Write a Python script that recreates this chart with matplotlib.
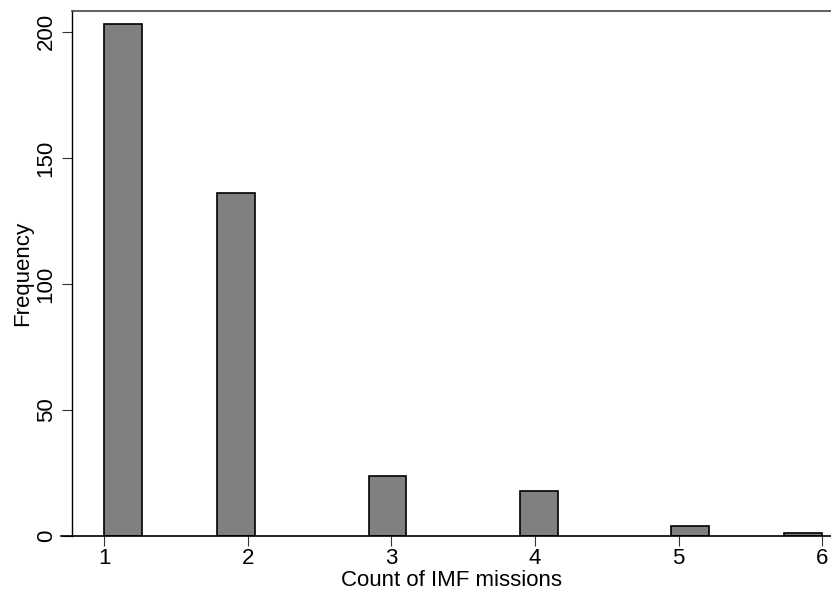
import matplotlib
matplotlib.use("Agg")
import matplotlib.pyplot as plt
import numpy as np

plt.rcParams['font.family'] = ['Liberation Sans', 'DejaVu Sans']

# data: count of IMF missions and how often each occurs
missions = [1, 2, 3, 4, 5, 6]
freq = [203, 136, 24, 18, 4, 1]
yticks = [0, 50, 100, 150, 200]

# stata style histogram: 19 bins between 1 and 6, bins are (a,b]
nbins = 19
edges = np.linspace(min(missions), max(missions), nbins + 1)
w = edges[1] - edges[0]
idx = np.clip(np.ceil((np.array(missions) - edges[0]) / w - 1e-9).astype(int) - 1, 0, nbins - 1)
lefts = edges[idx]

fig = plt.figure(figsize=(8.31, 5.92), dpi=100)
ax = fig.add_axes([72/831, 1 - 536/592, 1 - 72/831, (536 - 11)/592])

ax.bar(lefts, freq, width=w, align='edge', color='#808080', edgecolor='black', linewidth=1.2, zorder=3)

ax.set_xlim(0.777, 6.061)
ax.set_ylim(0, 208.3)
ax.set_xticks(missions)
ax.set_yticks(yticks)
ax.set_yticklabels([str(t) for t in yticks], rotation=90, va='center')
ax.tick_params(axis='both', labelsize=16, length=7, width=0.8, color='#333333')
ax.tick_params(axis='x', pad=2)
ax.tick_params(axis='y', pad=4)

ax.spines['right'].set_visible(False)
ax.spines['bottom'].set_visible(False)
ax.spines['top'].set_color('#444444')
ax.spines['left'].set_color('black')
ax.spines['top'].set_linewidth(1.2)
ax.spines['left'].set_linewidth(1.0)
# x axis line runs a bit past the left spine like in stata
ax.plot([-0.014, 1], [0, 0], transform=ax.transAxes, color='black', lw=1.2, clip_on=False, zorder=4)

ax.set_xlabel("Count of IMF missions", fontsize=16, labelpad=0)
ax.set_ylabel("Frequency", fontsize=16, labelpad=2)

fig.savefig("out.png", dpi=100)
